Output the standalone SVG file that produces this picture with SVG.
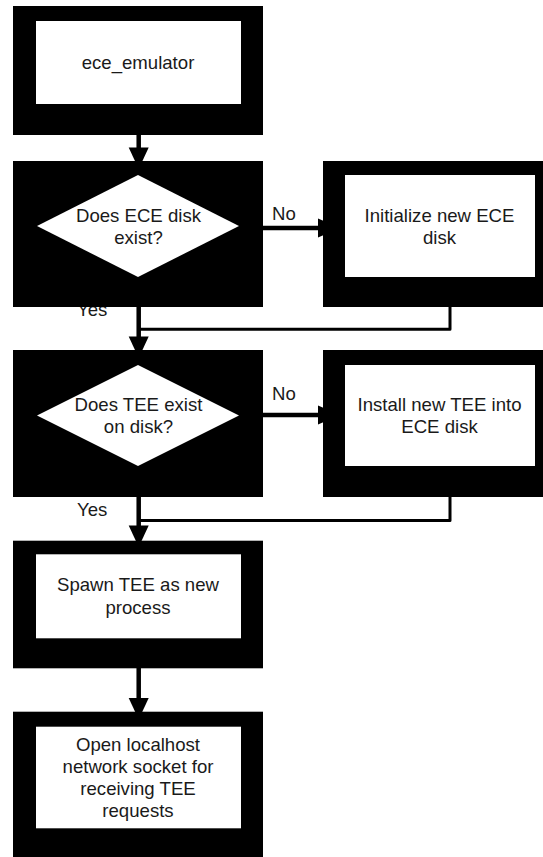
<svg xmlns="http://www.w3.org/2000/svg" width="543" height="857" viewBox="0 0 543 857">
  <style>
    .frame { fill: #000000; }
    .inner { fill: #ffffff; }
    .flow { stroke: #000000; stroke-width: 4.5; fill: none; }
    .merge { stroke: #000000; stroke-width: 3; fill: none; stroke-linejoin: round; }
    .head { fill: #000000; }
    text { font-family: "Liberation Sans", Arial, Helvetica, sans-serif; font-size: 18.6px; fill: #1a1a1a; }
    .c { text-anchor: middle; }
  </style>
  <rect x="0" y="0" width="543" height="857" fill="#ffffff"/>

  <!-- connectors sit beneath the nodes; the boxes hide the arrow tips -->
  <g id="connectors">
    <!-- ece_emulator -> disk check -->
    <line class="flow" x1="138.7" y1="130" x2="138.7" y2="150"/>
    <polygon class="head" points="128.7,147.5 148.7,147.5 138.7,169"/>

    <!-- disk check -> TEE check -->
    <line class="flow" x1="138.7" y1="300" x2="138.7" y2="339"/>
    <polygon class="head" points="128.7,336.5 148.7,336.5 138.7,358"/>

    <!-- No: disk check -> initialize disk -->
    <line class="flow" x1="258" y1="228" x2="320" y2="228"/>
    <polygon class="head" points="318,218.5 318,237.5 340,228"/>

    <!-- initialize disk rejoins the main flow -->
    <polyline class="merge" points="450,300 450,329.2 140,329.2"/>

    <!-- TEE check -> spawn -->
    <line class="flow" x1="138.7" y1="490" x2="138.7" y2="528"/>
    <polygon class="head" points="128.7,525.5 148.7,525.5 138.7,547"/>

    <!-- No: TEE check -> install TEE -->
    <line class="flow" x1="258" y1="415" x2="320" y2="415"/>
    <polygon class="head" points="318,405.5 318,424.5 340,415"/>

    <!-- install TEE rejoins the main flow -->
    <polyline class="merge" points="450,490 450,520.5 140,520.5"/>

    <!-- spawn -> socket -->
    <line class="flow" x1="138.7" y1="660" x2="138.7" y2="700"/>
    <polygon class="head" points="128.7,698 148.7,698 138.7,719.5"/>

    <!-- branch labels -->
    <text x="272" y="220">No</text>
    <text x="272" y="400">No</text>
    <text x="77" y="316">Yes</text>
    <text x="77" y="516">Yes</text>
  </g>

  <g id="node-emulator">
    <rect class="frame" x="13" y="6" width="250" height="129"/>
    <rect class="inner" x="36" y="21" width="205" height="83"/>
    <text class="c" x="138" y="69">ece_emulator</text>
  </g>

  <g id="node-disk-check">
    <rect class="frame" x="13" y="161" width="250" height="146"/>
    <polygon class="inner" points="138,175 239,226 138,277 37,226"/>
    <text class="c" x="138.5" y="221.5">Does ECE disk</text>
    <text class="c" x="138.5" y="243.6">exist?</text>
  </g>

  <g id="node-init-disk">
    <rect class="frame" x="323" y="161" width="234" height="146"/>
    <rect class="inner" x="345" y="175" width="190" height="102"/>
    <text class="c" x="439.5" y="221.5">Initialize new ECE</text>
    <text class="c" x="439.5" y="243.6">disk</text>
  </g>

  <g id="node-tee-check">
    <rect class="frame" x="13" y="350" width="250" height="147"/>
    <polygon class="inner" points="138,365 239,415.5 138,466 37,415.5"/>
    <text class="c" x="138.5" y="411">Does TEE exist</text>
    <text class="c" x="138.5" y="433.2">on disk?</text>
  </g>

  <g id="node-install-tee">
    <rect class="frame" x="323" y="350" width="234" height="147"/>
    <rect class="inner" x="345" y="365" width="190" height="101"/>
    <text class="c" x="439.5" y="411">Install new TEE into</text>
    <text class="c" x="439.5" y="433.2">ECE disk</text>
  </g>

  <g id="node-spawn">
    <rect class="frame" x="13" y="540.7" width="250" height="127.6"/>
    <rect class="inner" x="36" y="554.3" width="205" height="84"/>
    <text class="c" x="138" y="591.4">Spawn TEE as new</text>
    <text class="c" x="138" y="613.6">process</text>
  </g>

  <g id="node-socket">
    <rect class="frame" x="13" y="711.7" width="250" height="147"/>
    <rect class="inner" x="36" y="726.7" width="205" height="101.6"/>
    <text class="c" x="138" y="750.5">Open localhost</text>
    <text class="c" x="138" y="772.8">network socket for</text>
    <text class="c" x="138" y="795.1">receiving TEE</text>
    <text class="c" x="138" y="817.4">requests</text>
  </g>
</svg>
